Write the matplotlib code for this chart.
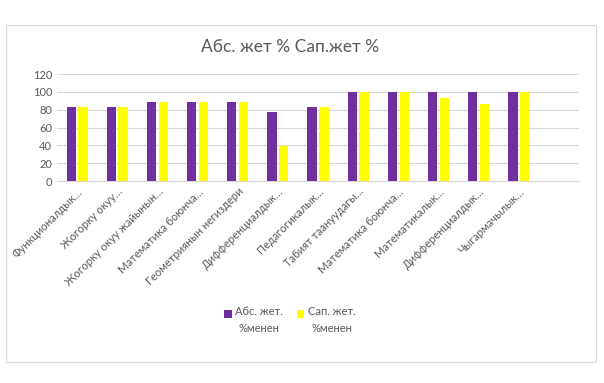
import numpy as np
import matplotlib
matplotlib.use('Agg')
import matplotlib.pyplot as plt
from matplotlib.patches import Rectangle

plt.rcParams['font.family'] = ['Lato', 'Roboto', 'DejaVu Sans']

categories = ['Функционалдык…', 'Жогорку окуу…', 'Жогорку окуу жайынын…',
              'Математика боюнча…', 'Геометриянын негиздери', 'Дифференциалдык…',
              'Педагогикалык…', 'Табият таануудагы…', 'Математика боюнча…',
              'Математикалык…', 'Дифференциалдык…', 'Чыгармачылык…']
abs_pct = [83.3, 83.3, 88.9, 88.9, 88.9, 77.8, 83.3, 100, 100, 100, 100, 100]
sap_pct = [83.3, 83.3, 88.9, 88.9, 88.9, 38.9, 83.3, 100, 100, 93.3, 86.7, 100]
yticks = [0, 20, 40, 60, 80, 100, 120]

txt = '#595959'
fig = plt.figure(figsize=(6.04, 3.83), dpi=100)
fig.patches.append(Rectangle((6/604, 1-362/383), 590/604, 337/383, transform=fig.transFigure,
                             fill=False, edgecolor='#D9D9D9', linewidth=0.8))
ax = fig.add_axes([57/604, 1-181/383, 522/604, 107/383])

x = np.arange(len(categories))
w = 0.233
ax.bar(x - w/2 - 0.03, abs_pct, w, color='#7030A0', label='Абс. жет.\n%менен', zorder=3)
ax.bar(x + w/2 + 0.03, sap_pct, w, color='#FFFF00', label='Сап. жет.\n%менен', zorder=3)

ax.set_xlim(-0.5, len(categories) + 0.5)
ax.set_ylim(0, 120)
ax.set_yticks(yticks)
ax.yaxis.grid(True, color='#D9D9D9', linewidth=0.8, zorder=0)
for s in ['top', 'right', 'left']:
    ax.spines[s].set_visible(False)
ax.spines['bottom'].set_color('#D9D9D9')
ax.tick_params(axis='both', length=0, colors=txt, labelsize=8)
ax.set_xticks(x)
ax.set_xticklabels(categories, rotation=45, ha='right', rotation_mode='anchor')

fig.text(0.48, 1-47/383, 'Абс. жет % Сап.жет %', ha='center', va='center', fontsize=12.5, color=txt)
leg = fig.legend(loc='center', bbox_to_anchor=(0.48, 1-320/383), ncol=2, frameon=False,
                 fontsize=8, handlelength=0.7, handleheight=0.7, handletextpad=0.3,
                 columnspacing=1.2, labelcolor=txt)
for t in leg.get_texts():
    t.set_multialignment('center')
    t.set_linespacing(1.7)
for h in leg.legend_handles:
    h.set_y(h.get_y() + 5)
plt.savefig('out.png', dpi=100)
